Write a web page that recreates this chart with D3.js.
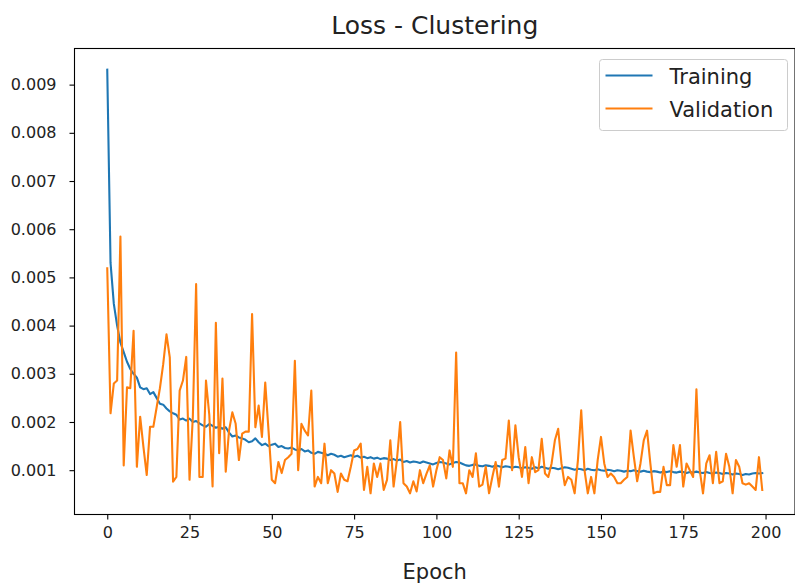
<!DOCTYPE html>
<html>
<head>
<meta charset="utf-8">
<script src="https://cdn.jsdelivr.net/npm/d3@7"></script>
<style>
  body { margin: 0; background: #fff; }
  svg text { font-family: "DejaVu Sans", sans-serif; fill: #222; }
</style>
</head>
<body>
<div id="chart"></div>
<script>
// loss per epoch
const training = [
  0.00931, 0.00530, 0.00445, 0.00400, 0.00365, 0.00345, 0.00325, 0.00310, 0.00300, 0.00292,
  0.00272, 0.00268, 0.00270, 0.00258, 0.00262, 0.00250, 0.00238, 0.00236, 0.00228, 0.00222,
  0.00218, 0.00215, 0.00205, 0.00207, 0.00203, 0.00207, 0.00200, 0.00202, 0.00197, 0.00193,
  0.00190, 0.00196, 0.00192, 0.00188, 0.00190, 0.00186, 0.00189, 0.00178, 0.00170, 0.00172,
  0.00168, 0.00166, 0.00163, 0.00158, 0.00160, 0.00166, 0.00158, 0.00152, 0.00155, 0.00150,
  0.00153, 0.00155, 0.00148, 0.00150, 0.00146, 0.00145, 0.00147, 0.00143, 0.00141, 0.00144,
  0.00139, 0.00141, 0.00136, 0.00134, 0.00138, 0.00136, 0.00134, 0.00131, 0.00134, 0.00132,
  0.00128, 0.00130, 0.00127, 0.00129, 0.00131, 0.00128, 0.00130, 0.00126, 0.00128, 0.00125,
  0.00127, 0.00124, 0.00126, 0.00123, 0.00125, 0.00124, 0.00121, 0.00123, 0.00120, 0.00122,
  0.00117, 0.00119, 0.00116, 0.00118, 0.00117, 0.00115, 0.00118, 0.00116, 0.00114, 0.00112,
  0.00115, 0.00117, 0.00116, 0.00114, 0.00112, 0.00115, 0.00117, 0.00116, 0.00113, 0.00110,
  0.00109, 0.00111, 0.00112, 0.00109, 0.00108, 0.00110, 0.00109, 0.00107, 0.00110, 0.00108,
  0.00106, 0.00108, 0.00107, 0.00105, 0.00107, 0.00106, 0.00104, 0.00106, 0.00105, 0.00103,
  0.00106, 0.00104, 0.00107, 0.00105, 0.00103, 0.00105, 0.00104, 0.00102, 0.00104, 0.00106,
  0.00105, 0.00103, 0.00101, 0.00103, 0.00102, 0.00100, 0.00103, 0.00101, 0.00100, 0.00102,
  0.00100, 0.00099, 0.00101, 0.00100, 0.00098, 0.00100, 0.00099, 0.00097, 0.00099, 0.00098,
  0.00100, 0.00098, 0.00097, 0.00099, 0.00097, 0.00096, 0.00098, 0.00097, 0.00095, 0.00097,
  0.00096, 0.00098, 0.00096, 0.00095, 0.00097, 0.00096, 0.00094, 0.00096, 0.00095, 0.00097,
  0.00095, 0.00094, 0.00096, 0.00094, 0.00093, 0.00095, 0.00094, 0.00092, 0.00094, 0.00093,
  0.00091, 0.00093, 0.00092, 0.00090, 0.00092, 0.00091, 0.00093, 0.00094, 0.00093, 0.00094
];

const validation = [
  0.00519, 0.00218, 0.00280, 0.00286, 0.00585, 0.00110, 0.00272, 0.00270, 0.00389, 0.00107,
  0.00211, 0.00148, 0.00090, 0.00190, 0.00190, 0.00230, 0.00270, 0.00320, 0.00382, 0.00334,
  0.00076, 0.00086, 0.00265, 0.00286, 0.00335, 0.00080, 0.00210, 0.00486, 0.00086, 0.00086,
  0.00286, 0.00215, 0.00066, 0.00406, 0.00135, 0.00290, 0.00097, 0.00182, 0.00220, 0.00197,
  0.00121, 0.00176, 0.00180, 0.00180, 0.00424, 0.00189, 0.00234, 0.00169, 0.00282, 0.00182,
  0.00080, 0.00073, 0.00117, 0.00094, 0.00121, 0.00127, 0.00134, 0.00327, 0.00100, 0.00196,
  0.00182, 0.00172, 0.00265, 0.00066, 0.00086, 0.00073, 0.00155, 0.00073, 0.00100, 0.00093,
  0.00055, 0.00093, 0.00080, 0.00077, 0.00107, 0.00141, 0.00144, 0.00155, 0.00059, 0.00107,
  0.00052, 0.00114, 0.00086, 0.00114, 0.00059, 0.00080, 0.00162, 0.00066, 0.00121, 0.00200,
  0.00073, 0.00066, 0.00052, 0.00077, 0.00056, 0.00100, 0.00073, 0.00093, 0.00110, 0.00066,
  0.00100, 0.00127, 0.00121, 0.00083, 0.00141, 0.00107, 0.00344, 0.00073, 0.00073, 0.00052,
  0.00100, 0.00086, 0.00135, 0.00066, 0.00070, 0.00107, 0.00052, 0.00086, 0.00117, 0.00066,
  0.00121, 0.00124, 0.00203, 0.00100, 0.00193, 0.00127, 0.00086, 0.00148, 0.00073, 0.00127,
  0.00096, 0.00100, 0.00165, 0.00093, 0.00086, 0.00114, 0.00162, 0.00186, 0.00114, 0.00069,
  0.00086, 0.00080, 0.00052, 0.00121, 0.00224, 0.00100, 0.00052, 0.00086, 0.00052, 0.00121,
  0.00169, 0.00114, 0.00086, 0.00093, 0.00086, 0.00073, 0.00073, 0.00080, 0.00086, 0.00182,
  0.00127, 0.00077, 0.00114, 0.00162, 0.00182, 0.00114, 0.00052, 0.00055, 0.00055, 0.00107,
  0.00069, 0.00069, 0.00152, 0.00107, 0.00152, 0.00066, 0.00114, 0.00100, 0.00086, 0.00268,
  0.00100, 0.00052, 0.00114, 0.00131, 0.00073, 0.00138, 0.00073, 0.00077, 0.00134, 0.00107,
  0.00052, 0.00121, 0.00107, 0.00073, 0.00070, 0.00073, 0.00066, 0.00059, 0.00127, 0.00059
];

const xTicks = [0, 25, 50, 75, 100, 125, 150, 175, 200];
const yTicks = [0.001, 0.002, 0.003, 0.004, 0.005, 0.006, 0.007, 0.008, 0.009];
const series = [["Training", "#1f77b4", training], ["Validation", "#ff7f0e", validation]];

let w = 795, h = 585;
let margin = {top: 48.5, right: 0, bottom: 70.5, left: 74.5};

const svg = d3.select("#chart")
  .append("svg")
  .attr("width", w)
  .attr("height", h);

// matplotlib style 5% padding on both axes
let n = training.length;
let xPad = (n - 1) * 0.05;
let allVals = training.concat(validation);
let yMin = d3.min(allVals), yMax = d3.max(allVals), yPad = (yMax - yMin) * 0.05;

const xScale = d3.scaleLinear()
  .domain([-xPad, n - 1 + xPad])
  .range([margin.left, w - margin.right]);

const yScale = d3.scaleLinear()
  .domain([yMin - yPad, yMax + yPad])
  .range([h - margin.bottom, margin.top]);

const xAxis = d3.axisBottom(xScale)
  .tickValues(xTicks)
  .tickFormat(d3.format("d"))
  .tickSizeInner(5)
  .tickSizeOuter(0)
  .tickPadding(7);

const yAxis = d3.axisLeft(yScale)
  .tickValues(yTicks)
  .tickFormat(d3.format(".3f"))
  .tickSizeInner(5)
  .tickSizeOuter(0)
  .tickPadding(13);

let line = d3.line()
  .x((d, i) => xScale(i))
  .y(d => yScale(d));

svg.append("defs").append("clipPath")
  .attr("id", "clip")
  .append("rect")
  .attr("x", margin.left)
  .attr("y", margin.top)
  .attr("width", w - margin.left - margin.right)
  .attr("height", h - margin.top - margin.bottom);

svg.append("g")
  .attr("clip-path", "url(#clip)")
  .selectAll("path")
  .data(series)
  .enter()
  .append("path")
  .attr("d", d => line(d[2]))
  .attr("fill", "none")
  .attr("stroke", d => d[1])
  .attr("stroke-width", 2.1)
  .attr("stroke-linejoin", "round")
  .attr("stroke-linecap", "square");

let gx = svg.append("g")
  .attr("transform", "translate(0," + (h - margin.bottom) + ")")
  .call(xAxis);

let gy = svg.append("g")
  .attr("transform", "translate(" + margin.left + ",0)")
  .call(yAxis);

[gx, gy].forEach(g => {
  g.select(".domain").remove();
  g.selectAll("line").attr("stroke", "#000").attr("stroke-width", 1.1);
  g.selectAll("text").attr("font-size", 16).style("fill", "#222");
});

// frame
svg.append("rect")
  .attr("x", margin.left)
  .attr("y", margin.top)
  .attr("width", w - margin.left - margin.right)
  .attr("height", h - margin.top - margin.bottom)
  .attr("fill", "none")
  .attr("stroke", "#000")
  .attr("stroke-width", 1.1);

svg.append("text")
  .attr("x", (margin.left + w - margin.right) / 2)
  .attr("y", 34)
  .attr("text-anchor", "middle")
  .attr("font-size", 25)
  .text("Loss - Clustering");

svg.append("text")
  .attr("x", (margin.left + w - margin.right) / 2)
  .attr("y", 579)
  .attr("text-anchor", "middle")
  .attr("font-size", 21)
  .text("Epoch");

let legend = svg.append("g")
  .attr("transform", "translate(599.5,59.5)");

legend.append("rect")
  .attr("width", 188)
  .attr("height", 71)
  .attr("rx", 3)
  .attr("fill", "#fff")
  .attr("fill-opacity", 0.8)
  .attr("stroke", "#ccc");

legend.selectAll("line")
  .data(series)
  .enter()
  .append("line")
  .attr("x1", 6)
  .attr("x2", 53)
  .attr("y1", (d, i) => 16 + i * 33)
  .attr("y2", (d, i) => 16 + i * 33)
  .attr("stroke", d => d[1])
  .attr("stroke-width", 2.1);

legend.selectAll("text")
  .data(series)
  .enter()
  .append("text")
  .attr("x", 70)
  .attr("y", (d, i) => 24 + i * 33)
  .attr("font-size", 21)
  .text(d => d[0]);
</script>
</body>
</html>
